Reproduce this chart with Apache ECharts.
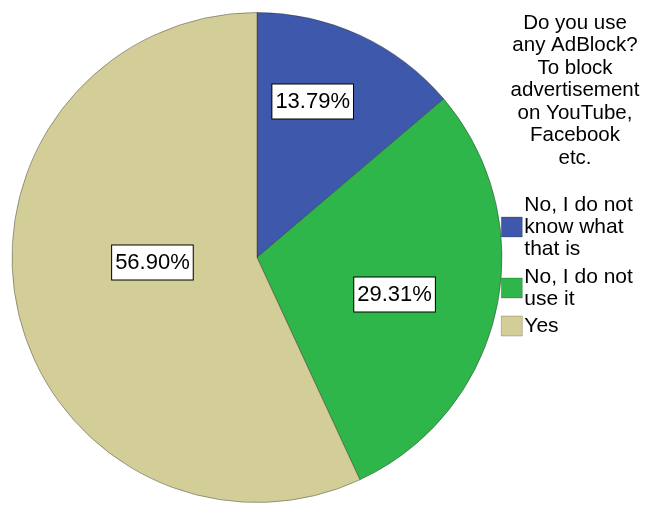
<!DOCTYPE html>
<html>
<head>
<meta charset="utf-8">
<script src="https://cdn.jsdelivr.net/npm/echarts@6/dist/echarts.min.js"></script>
<style>
  html, body { margin: 0; padding: 0; background: #ffffff; }
  #chart { width: 660px; height: 505px; }
</style>
</head>
<body>
<div id="chart"></div>
<script>
// Survey answers and their shares (percent of respondents)
const categories = ['No, I do not know what that is', 'No, I do not use it', 'Yes'];
const shares = [13.79, 29.31, 56.90];
const sliceColors = ['#3E58AC', '#2EB64A', '#D3CE97'];
// Wrapped legend text for each answer
const legendLines = {
  'No, I do not know what that is': 'No, I do not\nknow what\nthat is',
  'No, I do not use it': 'No, I do not\nuse it',
  'Yes': 'Yes'
};
const titleText = 'Do you use\nany AdBlock?\nTo block\nadvertisement\non YouTube,\nFacebook\netc.';

// Shift of each percentage box away from the slice's mid-radius point
const labelShift = [[3, -42], [15, 10], [18, -22]];
const legendTops = [194, 266, 315];

const FONT = '"Liberation Sans", Arial, sans-serif';

const chart = echarts.init(document.getElementById('chart'), null, { renderer: 'canvas' });

const legends = categories.map((name, i) => ({
  data: [name],
  orient: 'vertical',
  left: 501,
  top: legendTops[i],
  padding: 0,
  itemWidth: 21,
  itemHeight: 20,
  itemGap: 0,
  selectedMode: false,
  icon: 'rect',
  itemStyle: { borderWidth: 0.6, borderColor: 'rgba(0,0,0,0.35)' },
  formatter: n => legendLines[n],
  textStyle: { fontFamily: FONT, fontSize: 21, lineHeight: 22, color: '#000', padding: [0, 0, 0, -3] }
}));

chart.setOption({
  animation: false,
  backgroundColor: '#ffffff',
  title: {
    text: titleText,
    left: 575,
    top: 12,
    padding: 0,
    textAlign: 'center',
    textStyle: { fontFamily: FONT, fontSize: 20.5, lineHeight: 22.5, fontWeight: 'normal', color: '#000' }
  },
  legend: legends,
  series: [{
    type: 'pie',
    center: [257, 257.5],
    radius: 245,
    startAngle: 90,
    clockwise: true,
    avoidLabelOverlap: false,
    silent: true,
    data: categories.map((name, i) => ({ name, value: shares[i], itemStyle: { color: sliceColors[i] } })),
    itemStyle: { borderColor: 'rgba(40,40,40,0.6)', borderWidth: 0.7 },
    label: {
      show: true,
      position: 'inside',
      formatter: p => p.value.toFixed(2) + '%',
      fontFamily: FONT,
      fontSize: 22,
      lineHeight: 26,
      color: '#000',
      backgroundColor: '#ffffff',
      borderColor: '#000',
      borderWidth: 1,
      padding: [4, 3, 4, 3]
    },
    labelLine: { show: false },
    labelLayout: p => ({ dx: labelShift[p.dataIndex][0], dy: labelShift[p.dataIndex][1] })
  }]
});
</script>
</body>
</html>
